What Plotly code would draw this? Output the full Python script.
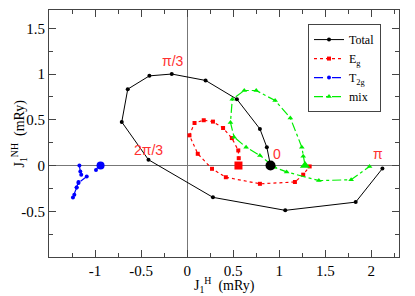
import plotly.graph_objects as go

# ---- data ----
total_x = [0.905, 0.865, 0.79, 0.54, 0.20, -0.167, -0.41, -0.645, -0.71, -0.42, 0.28, 1.065, 1.83, 2.12]
total_y = [0.0, 0.20, 0.40, 0.725, 0.93, 1.0, 0.98, 0.835, 0.476, 0.063, -0.348, -0.49, -0.40, -0.033]

eg_x = [0.557, 0.56, 0.555, 0.485, 0.39, 0.28, 0.18, 0.08, 0.025, 0.115, 0.27, 0.42, 0.79, 1.17, 1.26, 1.33]
eg_y = [0.0, 0.08, 0.165, 0.30, 0.41, 0.48, 0.495, 0.465, 0.33, 0.128, -0.036, -0.128, -0.20, -0.18, -0.10, -0.01]

t2g_x = [-0.94, -0.95, -0.96, -0.99, -1.09, -1.18, -1.20, -1.225, -1.24, -1.20, -1.18, -1.15, -1.16, -1.17]
t2g_y = [0.0, 0.01, 0.0, -0.05, -0.12, -0.19, -0.24, -0.32, -0.35, -0.24, -0.18, -0.10, -0.066, 0.0]

mix_x = [1.28, 1.26, 1.245, 1.12, 0.955, 0.75, 0.62, 0.49, 0.47, 0.51, 0.64, 0.79, 0.95, 1.08, 1.43, 1.78, 1.98]
mix_y = [0.0, 0.10, 0.20, 0.52, 0.71, 0.82, 0.82, 0.725, 0.47, 0.31, 0.20, 0.11, -0.02, -0.07, -0.165, -0.155, -0.01]

labels_text = ["π/3", "2π/3", "0", "π"]
labels_x = [-0.15, -0.42, 0.97, 2.07]
labels_y = [1.03, 0.06, 0.02, 0.02]

x_ticks = [-1, -0.5, 0, 0.5, 1, 1.5, 2]
x_ticktext = ["-1", "-0.5", "0", "0.5", "1", "1.5", "2"]
y_ticks = [-0.5, 0, 0.5, 1, 1.5]
y_ticktext = ["-0.5", "0", "0.5", "1", "1.5"]

SERIF = "Liberation Serif"

fig = go.Figure()

fig.add_trace(go.Scatter(x=total_x, y=total_y, mode="lines+markers", name="Total",
                         line=dict(color="black", width=1),
                         marker=dict(symbol="circle", size=4, color="black")))
fig.add_trace(go.Scatter(x=eg_x, y=eg_y, mode="lines+markers", name="E<sub>g</sub>",
                         line=dict(color="red", width=1.2, dash="dot"),
                         marker=dict(symbol="square", size=4, color="red")))
fig.add_trace(go.Scatter(x=t2g_x, y=t2g_y, mode="lines+markers", name="T<sub>2g</sub>",
                         line=dict(color="blue", width=1.2, dash="dash"),
                         marker=dict(symbol="circle", size=4, color="blue")))
fig.add_trace(go.Scatter(x=mix_x, y=mix_y, mode="lines+markers", name="mix",
                         line=dict(color="#00ee00", width=1.2, dash="dashdot"),
                         marker=dict(symbol="triangle-up", size=5, color="#00ee00")))

# start-point markers
fig.add_trace(go.Scatter(x=total_x[:1], y=total_y[:1], mode="markers", showlegend=False,
                         marker=dict(symbol="circle", size=10, color="black")))
fig.add_trace(go.Scatter(x=eg_x[:1], y=eg_y[:1], mode="markers", showlegend=False,
                         marker=dict(symbol="square", size=8, color="red")))
fig.add_trace(go.Scatter(x=t2g_x[:1], y=t2g_y[:1], mode="markers", showlegend=False,
                         marker=dict(symbol="circle", size=8, color="blue")))
fig.add_trace(go.Scatter(x=mix_x[:1], y=mix_y[:1], mode="markers", showlegend=False,
                         marker=dict(symbol="triangle-up", size=9, color="#00ee00")))

for t, x, y in zip(labels_text, labels_x, labels_y):
    fig.add_annotation(x=x, y=y, text=t, showarrow=False, xanchor="center", yanchor="bottom",
                       font=dict(family="Liberation Sans", size=14, color="#ff3030"))

# axis titles
fig.add_annotation(xref="paper", yref="paper", x=0.5, y=0, yshift=-28, xanchor="center",
                   yanchor="middle", showarrow=False,
                   text="J<sub>1</sub><sup>H</sup>  (mRy)",
                   font=dict(family=SERIF, size=14, color="black"))
fig.add_annotation(xref="paper", yref="paper", x=0, y=0.5, xshift=-30, xanchor="center",
                   yanchor="middle", showarrow=False, textangle=-90,
                   text="J<sub>1</sub><sup>NH</sup>  (mRy)",
                   font=dict(family=SERIF, size=14, color="black"))

axis_common = dict(showline=True, linecolor="#444", linewidth=1, mirror="allticks",
                   ticks="inside", ticklen=7, tickcolor="#444", showgrid=False,
                   zeroline=True, zerolinecolor="#777", zerolinewidth=1, automargin=False,
                   tickfont=dict(family=SERIF, size=15, color="black"),
                   minor=dict(ticks="inside", ticklen=4, tickcolor="#444", dtick=0.25, tick0=0,
                              showgrid=False))

fig.update_xaxes(range=[-1.5, 2.3], tickmode="array", tickvals=x_ticks, ticktext=x_ticktext,
                 **axis_common)
fig.update_yaxes(range=[-1.0, 1.7], tickmode="array", tickvals=y_ticks, ticktext=y_ticktext,
                 **axis_common)

fig.update_layout(
    width=407, height=288,
    margin=dict(l=41, r=16, t=2, b=39),
    plot_bgcolor="white", paper_bgcolor="white",
    showlegend=True,
    legend=dict(x=0.74, y=0.943, xanchor="left", yanchor="top",
                bgcolor="white", bordercolor="#444", borderwidth=1,
                font=dict(family=SERIF, size=12, color="black"),
                itemwidth=30, tracegroupgap=0),
)

fig.write_html("out.html")
